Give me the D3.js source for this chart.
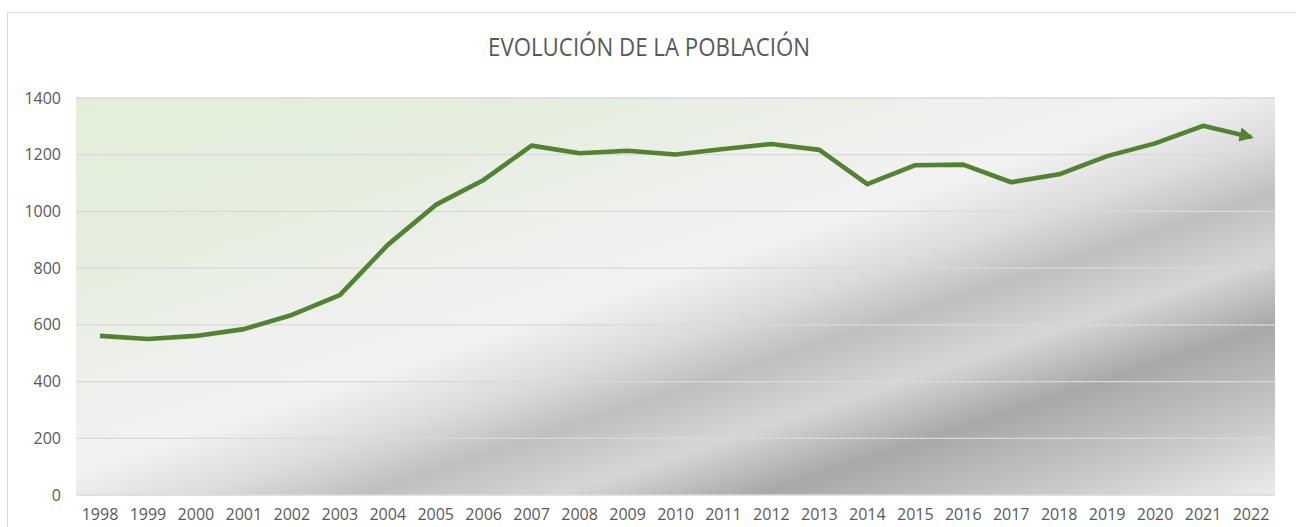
<!DOCTYPE html>
<html>
<head>
<meta charset="utf-8">
<script src="https://cdn.jsdelivr.net/npm/d3@7"></script>
<style>
  html, body { margin: 0; padding: 0; background: #fff; }
  svg { display: block; }
  .axis-g text { fill: #595959; font-family: "Open Sans", sans-serif; font-size: 16px; }
  .chart-title { fill: #595959; font-family: "Open Sans", sans-serif; font-size: 25px; }
  .grid-line { stroke: #d9d9d9; stroke-width: 1.3; }
</style>
</head>
<body>
<div id="chart"></div>
<script>
const years = ["1998","1999","2000","2001","2002","2003","2004","2005","2006","2007","2008","2009",
  "2010","2011","2012","2013","2014","2015","2016","2017","2018","2019","2020","2021","2022"];
const population = [561, 550, 561, 585, 635, 705, 882, 1023, 1111, 1232, 1205, 1214,
  1201, 1220, 1238, 1217, 1096, 1163, 1165, 1103, 1131, 1195, 1240, 1302, 1262];
const yTicks = [0, 200, 400, 600, 800, 1000, 1200, 1400];
const chartTitle = "EVOLUCIÓN DE LA POBLACIÓN";

class PopulationChart {
  constructor({ el }) {
    this.el = el;
    this.width = 1296;
    this.height = 527;
    this.marginTop = 98;
    this.marginRight = 21;
    this.marginBottom = 32;
    this.marginLeft = 76;
    this.setup();
    this.scaffold();
    this.render();
  }

  setup() {
    this.x = d3.scaleBand()
      .domain(years)
      .range([this.marginLeft, this.width - this.marginRight]);
    this.y = d3.scaleLinear()
      .domain([0, 1400])
      .range([this.height - this.marginBottom, this.marginTop]);
    this.line = d3.line()
      .x((_, i) => this.x(years[i]) + this.x.bandwidth() / 2)
      .y((d) => this.y(d));
  }

  scaffold() {
    this.svg = d3.select(this.el)
      .append("svg")
      .attr("width", this.width)
      .attr("height", this.height);

    const defs = this.svg.append("defs");
    // metallic silver fill, greenish in the top-left corner
    const grad = defs.append("linearGradient")
      .attr("id", "plot-bg")
      .attr("x1", 0).attr("y1", 0).attr("x2", 1).attr("y2", 1);
    [
      [0, "#e1efd9"],
      [0.22, "#e6eedf"],
      [0.36, "#edf0eb"],
      [0.47, "#f2f2f2"],
      [0.55, "#dcdcdc"],
      [0.62, "#bfbfbf"],
      [0.7, "#d6d6d6"],
      [0.785, "#a8a8a8"],
      [0.9, "#c9c9c9"],
      [1, "#ececec"],
    ].forEach(([o, c]) => grad.append("stop").attr("offset", o).attr("stop-color", c));

    defs.append("marker")
      .attr("id", "arrow")
      .attr("viewBox", "0 0 10 10")
      .attr("refX", 8)
      .attr("refY", 5)
      .attr("markerWidth", 3.1)
      .attr("markerHeight", 3.1)
      .attr("orient", "auto")
      .append("path")
      .attr("d", "M0,0L10,5L0,10Z")
      .attr("fill", "#548235");

    this.gFrame = this.svg.append("g");
    this.gGrid = this.svg.append("g");
    this.gX = this.svg.append("g").attr("class", "axis-g axis-g--x");
    this.gY = this.svg.append("g").attr("class", "axis-g axis-g--y");
    this.gLines = this.svg.append("g");
  }

  render() {
    this.gFrame.append("rect")
      .attr("x", 7.5).attr("y", 12.5)
      .attr("width", 1300).attr("height", 530)
      .attr("fill", "#fff")
      .attr("stroke", "#d9d9d9");

    this.gFrame.append("text")
      .attr("class", "chart-title")
      .attr("x", 488)
      .attr("y", 56)
      .attr("textLength", 322)
      .attr("lengthAdjust", "spacingAndGlyphs")
      .text(chartTitle);

    this.gFrame.append("rect")
      .attr("x", this.marginLeft)
      .attr("y", this.marginTop)
      .attr("width", this.width - this.marginLeft - this.marginRight)
      .attr("height", this.height - this.marginTop - this.marginBottom)
      .attr("fill", "url(#plot-bg)");

    this.gGrid.selectAll(".grid-line")
      .data(yTicks)
      .join("line")
      .attr("class", "grid-line")
      .attr("x1", this.marginLeft)
      .attr("x2", this.width - this.marginRight)
      .attr("y1", (d) => this.y(d))
      .attr("y2", (d) => this.y(d));

    this.gY
      .attr("transform", `translate(${this.marginLeft},0)`)
      .call(d3.axisLeft(this.y).tickValues(yTicks).tickFormat(d3.format("d")).tickSize(0).tickPadding(15))
      .call((g) => g.select(".domain").remove());

    this.gX
      .attr("transform", `translate(0,${this.height - this.marginBottom})`)
      .call(d3.axisBottom(this.x).tickSize(0).tickPadding(14))
      .call((g) => g.select(".domain").remove());

    this.gLines.append("path")
      .datum(population)
      .attr("d", this.line)
      .attr("fill", "none")
      .attr("stroke", "#548235")
      .attr("stroke-width", 4.6)
      .attr("stroke-linejoin", "round")
      .attr("marker-end", "url(#arrow)");
  }
}

new PopulationChart({ el: document.getElementById("chart") });
</script>
</body>
</html>
